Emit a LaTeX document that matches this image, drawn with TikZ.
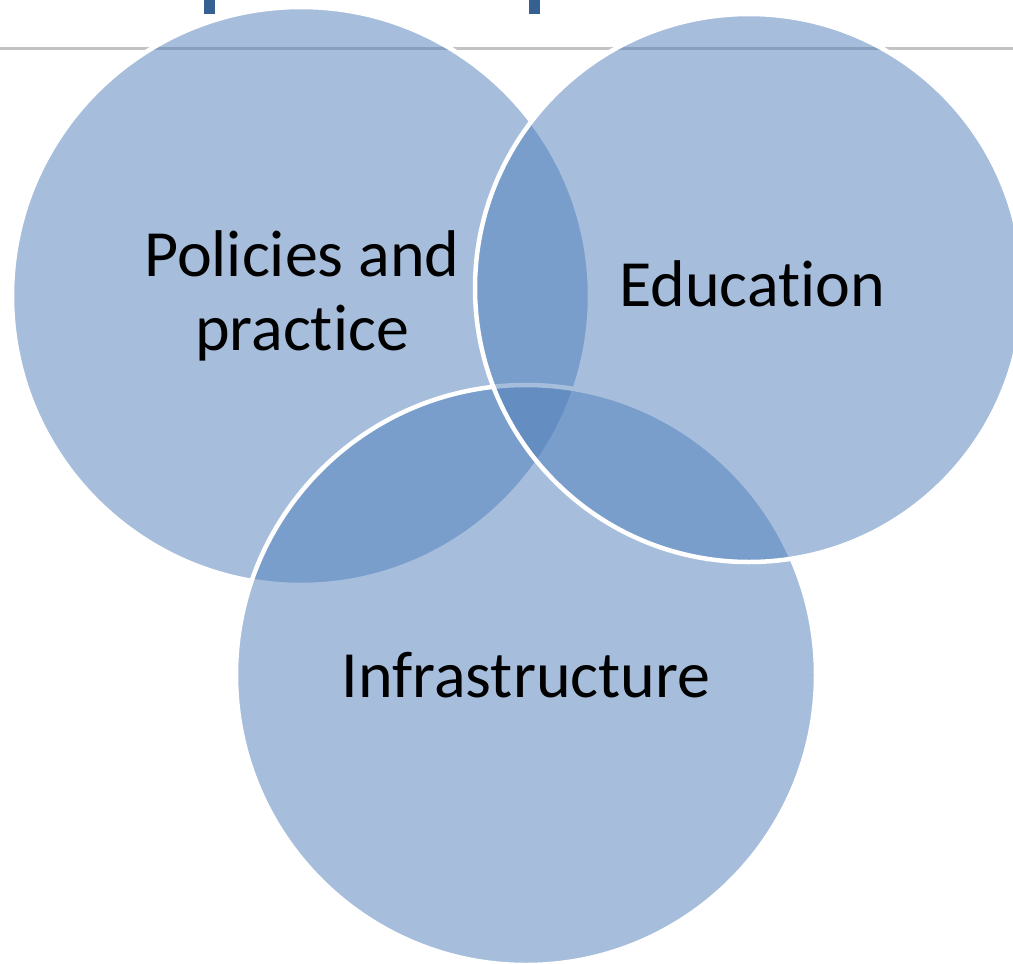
\documentclass[tikz,border=0pt]{standalone}
\usepackage{fontspec}
\setmainfont[Ligatures={NoCommon}]{Carlito}
\definecolor{accent}{RGB}{79,127,187}
\definecolor{titleblue}{RGB}{55,96,146}
\definecolor{rule}{RGB}{195,195,195}
\begin{document}
\begin{tikzpicture}[x=1pt,y=-1pt,
  venn/.style={circle, draw=white, line width=4.5pt, fill=accent, fill opacity=0.5, draw opacity=1, inner sep=0pt},
  lbl/.style={font=\fontsize{66}{74}\selectfont, text=black, align=center, text opacity=1}]
\useasboundingbox (0,0) rectangle (1013,964);
\fill[white] (0,0) rectangle (1013,964);
% header rule and title fragments
\draw[rule, line width=3pt] (0,48) -- (1013,48);
\fill[titleblue] (204,0) rectangle (215,14);
\fill[titleblue] (529,0) rectangle (540,14);
% circles
\node[venn, minimum size=578pt] (pol) at (301,296) {};
\node[venn, minimum size=580pt] (inf) at (526,675) {};
\node[venn, minimum size=548pt] (edu) at (749,288) {};
% labels
\node[lbl] (tpol) at (302,296) {Policies and\\practice};
\node[lbl, anchor=base] (tedu) at (752,306) {Education};
\node[lbl, anchor=base] (tinf) at (526,697) {Infrastructure};
\end{tikzpicture}
\end{document}
